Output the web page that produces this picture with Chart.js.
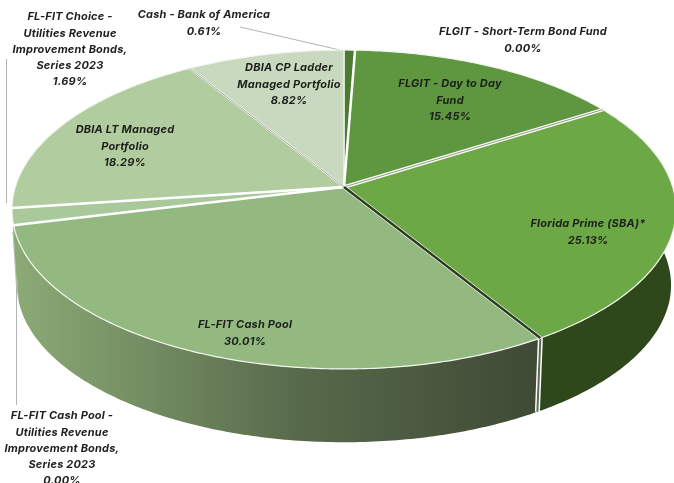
<!DOCTYPE html>
<html lang="en">
<head>
    <meta charset="UTF-8">
    <title>Portfolio Allocation</title>
    <script src="https://cdn.jsdelivr.net/npm/chart.js"></script>
    <style>
        html, body { margin: 0; padding: 0; background: #fff; overflow: hidden; }
        canvas { display: block; }
    </style>
</head>
<body>
    <canvas id="allocationChart" width="674" height="483"></canvas>

    <script>
        const categories = [
            'Cash - Bank of America',
            'FLGIT - Short-Term Bond Fund',
            'FLGIT - Day to Day Fund',
            'Florida Prime (SBA)*',
            'FL-FIT Cash Pool',
            'FL-FIT Cash Pool - Utilities Revenue Improvement Bonds, Series 2023',
            'FL-FIT Choice - Utilities Revenue Improvement Bonds, Series 2023',
            'DBIA LT Managed Portfolio',
            'DBIA CP Ladder Managed Portfolio'
        ];
        const shares = [0.61, 0.00, 15.45, 25.13, 30.01, 0.00, 1.69, 18.29, 8.82];
        const sliceColors = ['#4a7c30', '#4a7c30', '#5f9640', '#6da847', '#93b981', '#93b981', '#a9c99a', '#b1cda0', '#c9d9bf'];
        const labelLines = [
            ['Cash - Bank of America'],
            ['FLGIT - Short-Term Bond Fund'],
            ['FLGIT - Day to Day', 'Fund'],
            ['Florida Prime (SBA)*'],
            ['FL-FIT Cash Pool'],
            ['FL-FIT Cash Pool -', 'Utilities Revenue', 'Improvement Bonds,', 'Series 2023'],
            ['FL-FIT Choice -', 'Utilities Revenue', 'Improvement Bonds,', 'Series 2023'],
            ['DBIA LT Managed', 'Portfolio'],
            ['DBIA CP Ladder', 'Managed Portfolio']
        ];

        // where each label block starts: centre x, first line y
        const labelSpots = [
            [204, 15], [523, 32], [450, 84], [588, 224], [245, 325],
            [62, 416], [70, 17], [125, 130], [289, 68]
        ];

        const PRIME = 3, POOL = 4;
        const APEX_X = 344, APEX_Y = 187;
        const TILT = 0.141;
        const SPREAD_X = 328.7, SPREAD_Y = 156.3;
        const WALL_DROP = 76, WALL_SCALE = 0.985;

        // perspective view of the unit circle, lying on its back
        function project(angle, radius = 1, drop = 0, scale = 1) {
            const u = Math.cos(angle) * radius;
            const v = Math.sin(angle) * radius;
            const w = 1 - TILT * v;
            return {
                x: APEX_X + scale * SPREAD_X * u / w,
                y: APEX_Y + drop + scale * SPREAD_Y * v / w
            };
        }

        function rimPoints(start, end, drop = 0, scale = 1) {
            const pts = [];
            const steps = Math.max(2, Math.ceil((end - start) * 80));
            for (let i = 0; i <= steps; i++) {
                pts.push(project(start + (end - start) * i / steps, 1, drop, scale));
            }
            return pts;
        }

        function tracePolygon(ctx, pts) {
            ctx.beginPath();
            pts.forEach((p, i) => i ? ctx.lineTo(p.x, p.y) : ctx.moveTo(p.x, p.y));
            ctx.closePath();
        }

        function strokeLine(ctx, a, b, color, width) {
            ctx.beginPath();
            ctx.moveTo(a.x, a.y);
            ctx.lineTo(b.x, b.y);
            ctx.strokeStyle = color;
            ctx.lineWidth = width;
            ctx.stroke();
        }

        function drawWalls(ctx, arcs) {
            const fade = ctx.createLinearGradient(13, 0, 537, 0);
            fade.addColorStop(0, '#8cab76');
            fade.addColorStop(0.55, '#57694b');
            fade.addColorStop(1, '#3f4a35');

            // back slices first so the front ones sit over them
            [6, 7, PRIME, POOL].forEach(i => {
                const arc = arcs[i];
                const top = rimPoints(arc.startAngle, arc.endAngle);
                const bottom = rimPoints(arc.startAngle, arc.endAngle, WALL_DROP, WALL_SCALE).reverse();
                tracePolygon(ctx, top.concat(bottom));
                ctx.fillStyle = i === PRIME ? '#2e481b' : fade;
                ctx.fill();
            });

            // seam between the two front walls
            const seam = arcs[PRIME].endAngle;
            const seamTop = project(seam), seamBottom = project(seam, 1, WALL_DROP, WALL_SCALE);
            strokeLine(ctx, seamTop, seamBottom, '#ffffff', 5);
            strokeLine(ctx, seamTop, seamBottom, '#5e6a54', 2);
        }

        function drawFaces(ctx, arcs) {
            arcs.forEach((arc, i) => {
                if (shares[i] === 0) return;
                const pts = rimPoints(arc.startAngle, arc.endAngle);
                pts.push({ x: APEX_X, y: APEX_Y });
                tracePolygon(ctx, pts);
                ctx.fillStyle = sliceColors[i];
                ctx.fill();
                ctx.strokeStyle = '#f4f7f0';
                ctx.lineWidth = 1.2;
                ctx.lineJoin = 'round';
                ctx.stroke();
            });

            const apex = { x: APEX_X, y: APEX_Y };
            // wider white gaps either side of the small slices
            strokeLine(ctx, apex, project(arcs[0].endAngle), '#ffffff', 2.5);
            strokeLine(ctx, apex, project(arcs[6].startAngle), '#ffffff', 2.5);
            strokeLine(ctx, apex, project(arcs[6].endAngle), '#ffffff', 2.5);

            // double rule under Day to Day
            const dayEnd = project(arcs[2].endAngle);
            strokeLine(ctx, apex, dayEnd, '#ffffff', 3.5);
            strokeLine(ctx, apex, dayEnd, '#8c9a80', 1);

            // thin rule between the DBIA slices
            const dbiaEnd = project(arcs[7].endAngle);
            strokeLine(ctx, apex, dbiaEnd, '#ffffff', 2);
            strokeLine(ctx, apex, dbiaEnd, '#7d8c72', 0.8);

            // dark split where Florida Prime lifts off the cash pool
            const primeEnd = project(arcs[PRIME].endAngle);
            strokeLine(ctx, apex, primeEnd, '#ffffff', 3.8);
            strokeLine(ctx, apex, primeEnd, '#2c3f1f', 2.6);
        }

        function drawLeaders(ctx) {
            ctx.strokeStyle = '#b4b4b4';
            ctx.lineWidth = 1;
            [
                [[240, 27], [340, 50]],
                [[6.5, 59], [6.5, 203]],
                [[16.5, 405], [16.5, 286], [13, 232]]
            ].forEach(path => {
                ctx.beginPath();
                path.forEach(([x, y], i) => i ? ctx.lineTo(x, y) : ctx.moveTo(x, y));
                ctx.stroke();
            });
        }

        function drawLabels(ctx) {
            ctx.font = 'italic 700 11px Inter, "Open Sans", sans-serif';
            ctx.letterSpacing = '0.2px';
            ctx.fillStyle = '#1c1f1a';
            ctx.textAlign = 'center';
            ctx.textBaseline = 'middle';
            labelLines.forEach((lines, i) => {
                const [x, y] = labelSpots[i];
                lines.concat(shares[i].toFixed(2) + '%').forEach((line, n) => {
                    ctx.fillText(line, x, y + n * 16.2);
                });
            });
        }

        // Chart.js lays the slices out; this paints them tilted and extruded
        const tiltedPie = {
            id: 'tiltedPie',
            beforeDatasetsDraw(chart) {
                const ctx = chart.ctx;
                const arcs = chart.getDatasetMeta(0).data.map(el => el.getProps(['startAngle', 'endAngle'], true));
                ctx.save();
                drawLeaders(ctx);
                drawWalls(ctx, arcs);
                drawFaces(ctx, arcs);
                drawLabels(ctx);
                ctx.restore();
                return false;
            }
        };

        new Chart(document.getElementById('allocationChart'), {
            type: 'pie',
            data: {
                labels: categories,
                datasets: [{ data: shares, backgroundColor: sliceColors }]
            },
            options: {
                responsive: false,
                animation: false,
                plugins: { legend: { display: false }, tooltip: { enabled: false } }
            },
            plugins: [tiltedPie]
        });
    </script>
</body>
</html>
